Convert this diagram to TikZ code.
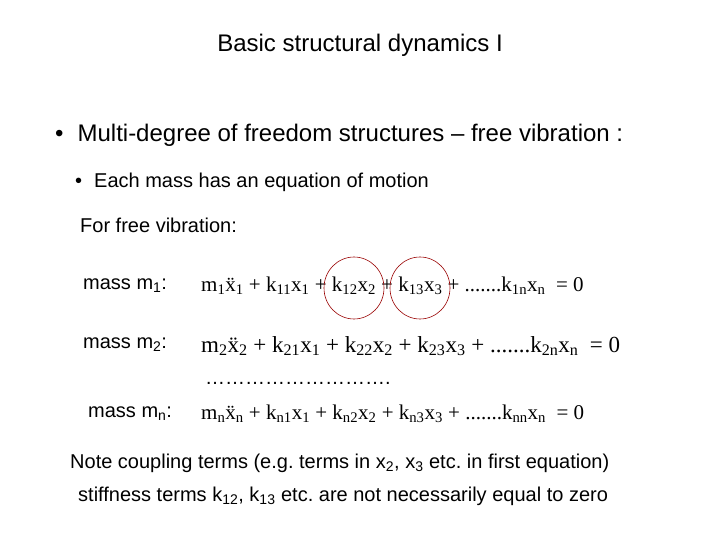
\documentclass[tikz,border=0pt]{standalone}
\usepackage{fontspec}
\setmainfont{Liberation Sans}
\newfontfamily\eqf{Liberation Serif}
\newcommand{\sbs}[1]{\textsubscript{#1}}
\frenchspacing
\begin{document}
\begin{tikzpicture}[x=1pt,y=-1pt,
  txt/.style={anchor=west,inner sep=0pt,font=\fontsize{20}{24}\selectfont},
  eq/.style={anchor=west,inner sep=0pt},
  ring/.style={draw=red!60!black,line width=0.6pt}]
\useasboundingbox[fill=white] (0,0) rectangle (720,540);
\node[inner sep=0pt,font=\fontsize{24}{28}\selectfont] (title) at (360,45) {Basic structural dynamics I};
\node[txt,font=\fontsize{24}{28}\selectfont] (b1) at (55,135) {•\hspace{14pt}Multi-degree of freedom structures – free vibration :};
\node[txt] (b2) at (75,182) {•\hspace{12pt}Each mass has an equation of motion};
\node[txt] (fv) at (80,225) {For free vibration:};
\node[txt] (m1) at (83,286) {mass m\sbs{1}:};
\node[txt] (m2) at (83,345) {mass m\sbs{2}:};
\node[txt] (mn) at (88,414) {mass m\sbs{n}:};
\node[eq,font=\eqf\fontsize{21}{24}\selectfont] (e1) at (201,286) {m\sbs{1}\"x\sbs{1} + k\sbs{11}x\sbs{1} + k\sbs{12}x\sbs{2} + k\sbs{13}x\sbs{3} + .......k\sbs{1n}x\sbs{n} \ = 0};
\node[eq,font=\eqf\fontsize{23}{26}\selectfont] (e2) at (201,346) {m\sbs{2}\"x\sbs{2} + k\sbs{21}x\sbs{1} + k\sbs{22}x\sbs{2} + k\sbs{23}x\sbs{3} + .......k\sbs{2n}x\sbs{n} \ = 0};
\node[txt] (dots) at (205,383) {……………………….};
\node[eq,font=\eqf\fontsize{21}{24}\selectfont] (e3) at (201,414) {m\sbs{n}\"x\sbs{n} + k\sbs{n1}x\sbs{1} + k\sbs{n2}x\sbs{2} + k\sbs{n3}x\sbs{3} + .......k\sbs{nn}x\sbs{n} \ = 0};
\node[txt] (note) at (70,463) {Note coupling terms (e.g. terms in x\sbs{2}, x\sbs{3} etc. in first equation)};
\node[txt] (stf) at (78,496) {stiffness terms k\sbs{12}, k\sbs{13} etc. are not necessarily equal to zero};
\draw[ring] (354,288) ellipse (30 and 31);
\draw[ring] (420,288) ellipse (30 and 31);
\end{tikzpicture}
\end{document}
